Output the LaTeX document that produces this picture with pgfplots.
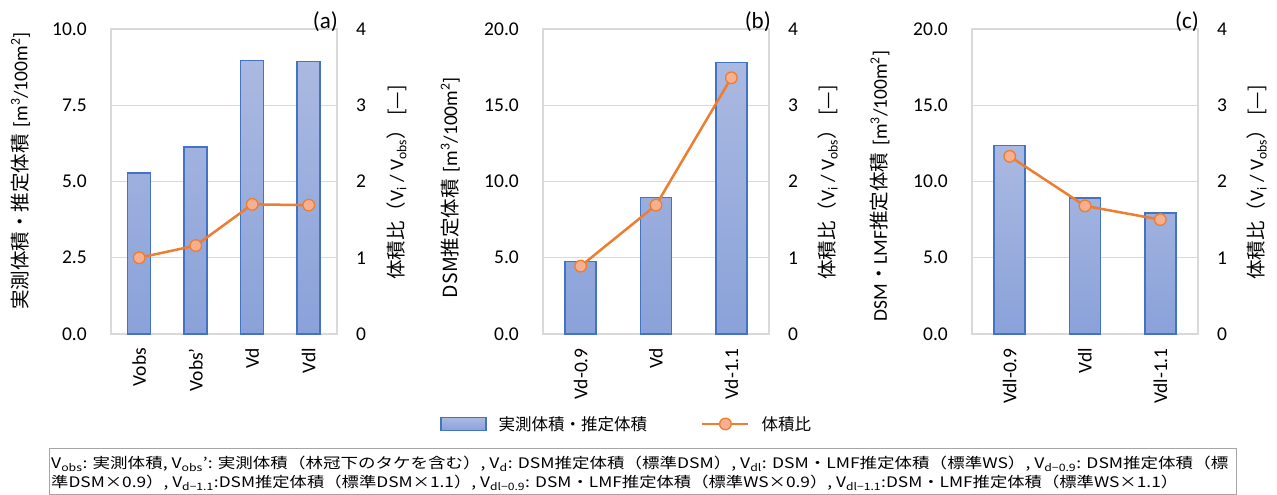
\documentclass[border=0pt]{standalone}
\usepackage{fontspec}
\setmainfont{Carlito}
\newfontfamily\jp{Noto Sans CJK JP}
\usepackage{graphicx}
\usepackage{pgfplots}
\pgfplotsset{compat=1.18}
\definecolor{barblue}{HTML}{4472C4}
\definecolor{bartop}{HTML}{AAB9E1}
\definecolor{barbot}{HTML}{8AA2D9}
\definecolor{lineor}{HTML}{ED7D31}
\definecolor{markfill}{HTML}{F6B090}
\definecolor{gridgray}{HTML}{D9D9D9}
\definecolor{footgray}{HTML}{A6A6A6}
\newcommand{\tf}{\fontsize{19.5}{23}\selectfont}
\tikzset{plabel/.style={anchor=east, inner sep=0pt, font=\fontsize{23}{27}\selectfont}}
\pgfplotsset{
  base/.style={scale only axis, width=226pt, height=305pt, anchor=south west,
    ymin=0, major tick length=0pt, clip=false,
    tick label style={font=\tf, inner sep=0pt, text=black},
    label style={font=\tf, inner sep=0pt},
    /pgf/number format/assume math mode=true},
  baraxis/.style={base, ymajorgrids, grid style={gridgray, line width=1.2pt},
    axis line style={gridgray, line width=1.2pt},
    xticklabel style={rotate=90, anchor=east}, xticklabel shift=14pt,
    yticklabel shift=24pt,
    yticklabel style={/pgf/number format/.cd, fixed, fixed zerofill, precision=1}},
  lineaxis/.style={base, axis x line=none, axis y line*=right, axis line style={draw=none},
    ymax=4, ytick={0,1,2,3,4}, yticklabel shift=19pt},
  bars/.style={ybar, bar width=#1, draw=barblue, line width=1.5pt, top color=bartop, bottom color=barbot},
  ratio/.style={lineor, line width=2.5pt, mark=*, mark size=5.8pt,
    mark options={fill=markfill, draw=lineor, line width=1.3pt},
    legend image code/.code={\draw[mark repeat=2, mark phase=2, ##1] plot coordinates {(0pt,0pt) (23pt,0pt) (46pt,0pt)};}},
}
\newcommand{\rlabel}{{\jp 体積比（}V\textsubscript{i} / V\textsubscript{obs}{\jp ）}\hspace{0.2em}{\jp [—]}}
\newcommand{\unitlbl}{\hspace{0.35em}[m\textsuperscript{3}/100m\textsuperscript{2}]}
\begin{document}
\begin{tikzpicture}[x=1pt,y=1pt]
\useasboundingbox (0,0) rectangle (1277,495);
% ---------------- (a)
\begin{axis}[baraxis, at={(111pt,161pt)}, xmin=-0.5, xmax=3.5, ymax=10,
  ytick={0,2.5,5,7.5,10}, xtick={0,1,2,3}, xticklabels={Vobs, Vobs’, Vd, Vdl},
  ylabel={{\jp 実測体積・推定体積}\unitlbl},
  ylabel style={at={(axis description cs:-0.40,0.534)}, anchor=center}]
\addplot[bars=23pt] coordinates {(0,5.28) (1,6.13) (2,8.96) (3,8.94)};
\node[plabel] at (rel axis cs:1,1) [xshift=1pt, yshift=7pt] {(a)};
\end{axis}
\begin{axis}[lineaxis, at={(111pt,161pt)}, xmin=-0.5, xmax=3.5,
  ylabel={\rlabel}, ylabel style={at={(axis description cs:1.264,0.497)}, anchor=center}]
\addplot[ratio] coordinates {(0,1.00) (1,1.16) (2,1.70) (3,1.69)};
\end{axis}
% ---------------- (b)
\begin{axis}[baraxis, at={(543pt,161pt)}, xmin=-0.5, xmax=2.5, ymax=20,
  ytick={0,5,10,15,20}, xtick={0,1,2}, xticklabels={Vd-0.9, Vd, Vd-1.1},
  ylabel={{\jp DSM推定体積}\unitlbl},
  ylabel style={at={(axis description cs:-0.41,0.48)}, anchor=center}]
\addplot[bars=31pt] coordinates {(0,4.74) (1,8.94) (2,17.79)};
\node[plabel] at (rel axis cs:1,1) [xshift=2pt, yshift=7pt] {(b)};
\end{axis}
\begin{axis}[lineaxis, at={(543pt,161pt)}, xmin=-0.5, xmax=2.5,
  ylabel={\rlabel}, ylabel style={at={(axis description cs:1.26,0.497)}, anchor=center},
  legend columns=2,
  legend style={at={(axis description cs:-0.4558,-0.295)}, anchor=west, draw=none, fill=none,
    inner sep=0pt, font=\jp\fontsize{16.5}{20}\selectfont, nodes={inner sep=0pt},
    /tikz/every odd column/.append style={column sep=12pt},
    /tikz/every even column/.append style={column sep=54pt}}]
\addlegendimage{legend image code/.code={\draw[draw=barblue, line width=1.5pt, top color=bartop, bottom color=barbot] (0pt,-6.5pt) rectangle (45pt,6.5pt);}}
\addlegendentry{実測体積・推定体積}
\addplot[ratio] coordinates {(0,0.89) (1,1.69) (2,3.36)};
\addlegendentry{体積比}
\end{axis}
% ---------------- (c)
\begin{axis}[baraxis, at={(972pt,161pt)}, xmin=-0.5, xmax=2.5, ymax=20,
  ytick={0,5,10,15,20}, xtick={0,1,2}, xticklabels={Vdl-0.9, Vdl, Vdl-1.1},
  ylabel={DSM{\jp ・}LMF{\jp 推定体積}\unitlbl},
  ylabel style={at={(axis description cs:-0.407,0.485)}, anchor=center}]
\addplot[bars=31pt] coordinates {(0,12.35) (1,8.92) (2,7.95)};
\node[plabel] at (rel axis cs:1,1) [xshift=1pt, yshift=7pt] {(c)};
\end{axis}
\begin{axis}[lineaxis, at={(972pt,161pt)}, xmin=-0.5, xmax=2.5,
  ylabel={\rlabel}, ylabel style={at={(axis description cs:1.26,0.497)}, anchor=center}]
\addplot[ratio] coordinates {(0,2.33) (1,1.68) (2,1.50)};
\end{axis}
% ---------------- footnote
\draw[footgray, line width=1pt] (49,0.5) rectangle (1236,46);
\node[anchor=west, inner sep=0pt] at (51,31) {\resizebox{1177pt}{\height}{\jp\fontsize{14.5}{17}\selectfont V\textsubscript{obs}: 実測体積, V\textsubscript{obs}’: 実測体積（林冠下のタケを含む）, V\textsubscript{d}: DSM推定体積（標準DSM）, V\textsubscript{dl}: DSM・LMF推定体積（標準WS）, V\textsubscript{d−0.9}: DSM推定体積（標}};
\node[anchor=west, inner sep=0pt] at (51,12) {\resizebox{1127pt}{\height}{\jp\fontsize{14.5}{17}\selectfont 準DSM×0.9）, V\textsubscript{d−1.1}:DSM推定体積（標準DSM×1.1）, V\textsubscript{dl−0.9}: DSM・LMF推定体積（標準WS×0.9）, V\textsubscript{dl−1.1}:DSM・LMF推定体積（標準WS×1.1）}};
\end{tikzpicture}
\end{document}
